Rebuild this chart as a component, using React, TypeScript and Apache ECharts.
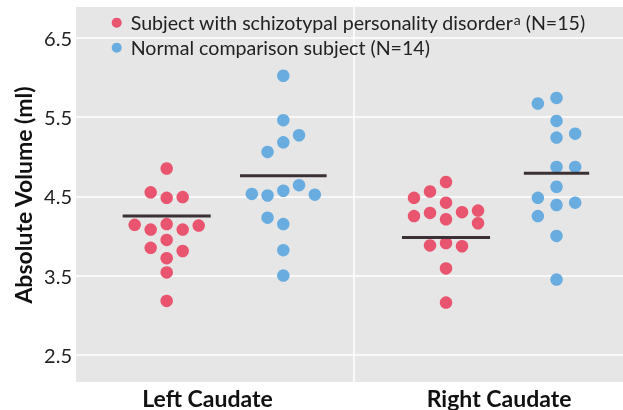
import React, { useEffect, useRef } from "react";
import * as echarts from "echarts";

// ---------- data ----------
const CATEGORIES = ["Left Caudate", "Right Caudate"];
const Y_TICKS = [2.5, 3.5, 4.5, 5.5, 6.5];
const GROUP_NAMES = [
  "Subject with schizotypal personality disorder (N=15)",
  "Normal comparison subject (N=14)",
];

// Left caudate – schizotypal personality disorder
const leftSpdValues = [4.85, 4.55, 4.48, 4.49, 4.14, 4.08, 4.15, 4.08, 4.13, 3.95, 3.85, 3.81, 3.72, 3.54, 3.18];
const leftSpdSlots = [0, -1, 0, 1, -2, -1, 0, 1, 2, 0, -1, 1, 0, 0, 0];
// Left caudate – normal comparison
const leftNcValues = [6.02, 5.46, 5.06, 5.18, 5.27, 4.53, 4.51, 4.57, 4.64, 4.52, 4.23, 4.15, 3.82, 3.5];
const leftNcSlots = [0, 0, -1, 0, 1, -2, -1, 0, 1, 2, -1, 0, 0, 0];
// Right caudate – schizotypal personality disorder
const rightSpdValues = [4.68, 4.56, 4.48, 4.42, 4.25, 4.29, 4.21, 4.3, 4.32, 4.16, 3.88, 3.91, 3.87, 3.59, 3.16];
const rightSpdSlots = [0, -1, -2, 0, -2, -1, 0, 1, 2, 2, -1, 0, 1, 0, 0];
// Right caudate – normal comparison
const rightNcValues = [5.67, 5.74, 5.45, 5.24, 5.29, 4.87, 4.87, 4.62, 4.48, 4.39, 4.42, 4.25, 4.0, 3.45];
const rightNcSlots = [-1, 0, 0, 0, 1, 0, 1, 0, -1, 0, 1, -1, 0, 0];

// group means (left, right)
const spdMeans = [4.25, 3.98];
const ncMeans = [4.76, 4.79];

// ---------- layout / style ----------
const FONT = "Lato, 'Open Sans', sans-serif";
const RED = "#e9546f";
const BLUE = "#69ade0";
const spdOffset = [-0.14, -0.182];
const ncOffset = [0.26, 0.197];
const spdSpacing = [0.0549, 0.0549];
const ncSpacing = [0.054, 0.064];

function swarm(values: number[], slots: number[], cat: number, offset: number, spacing: number) {
  return values.map((v, i) => [cat + 1 + offset + slots[i] * spacing, v]);
}
function meanLine(mean: number, slots: number[], cat: number, offset: number, spacing: number) {
  const maxSlot = Math.max(...slots.map((s) => Math.abs(s)));
  return [cat + 1 + offset, mean, (maxSlot + 0.75) * spacing];
}

export default function App() {
  const ref = useRef<HTMLDivElement>(null);
  useEffect(() => {
    const chart = echarts.init(ref.current!, undefined, { renderer: "svg" });
    const spdData = [
      ...swarm(leftSpdValues, leftSpdSlots, 0, spdOffset[0], spdSpacing[0]),
      ...swarm(rightSpdValues, rightSpdSlots, 1, spdOffset[1], spdSpacing[1]),
    ];
    const ncData = [
      ...swarm(leftNcValues, leftNcSlots, 0, ncOffset[0], ncSpacing[0]),
      ...swarm(rightNcValues, rightNcSlots, 1, ncOffset[1], ncSpacing[1]),
    ];
    const meanData = [
      meanLine(spdMeans[0], leftSpdSlots, 0, spdOffset[0], spdSpacing[0]),
      meanLine(ncMeans[0], leftNcSlots, 0, ncOffset[0], ncSpacing[0]),
      meanLine(spdMeans[1], rightSpdSlots, 1, spdOffset[1], spdSpacing[1]),
      meanLine(ncMeans[1], rightNcSlots, 1, ncOffset[1], ncSpacing[1]),
    ];
    chart.setOption({
      animation: false,
      grid: {
        left: 76,
        right: 0,
        top: 7,
        bottom: 28,
        show: true,
        backgroundColor: "#e6e6e6",
        borderWidth: 0,
      },
      xAxis: {
        type: "value",
        min: 0.549,
        max: 2.425,
        axisLine: { show: false },
        axisTick: { show: false, customValues: [1.5] },
        splitLine: { show: true, lineStyle: { color: "#ffffff", width: 1.5 } },
        axisLabel: {
          customValues: [1, 2],
          formatter: (v: number) => CATEGORIES[Math.round(v) - 1] ?? "",
          fontFamily: FONT,
          fontWeight: "bold",
          fontSize: 23,
          color: "#111",
          margin: 4,
        },
      },
      yAxis: {
        type: "value",
        min: 2.158,
        max: 6.887,
        axisLine: { show: false },
        axisTick: { show: false, customValues: Y_TICKS },
        splitLine: { show: true, lineStyle: { color: "#ffffff", width: 1.5 } },
        axisLabel: {
          customValues: Y_TICKS,
          formatter: (v: number) => v.toFixed(1),
          fontFamily: FONT,
          fontSize: 20,
          color: "#222",
          margin: 4,
        },
      },
      legend: {
        data: GROUP_NAMES,
        orient: "vertical",
        left: 111.7,
        top: 12.7,
        padding: 0,
        icon: "circle",
        itemWidth: 10,
        itemHeight: 10,
        itemGap: 5,
        formatter: (name: string) =>
          name === GROUP_NAMES[0]
            ? "Subject with schizotypal personality disorder{sup|a} (N=15)"
            : name,
        textStyle: {
          fontFamily: FONT,
          fontSize: 19.6,
          lineHeight: 20,
          color: "#222",
          padding: [0, 0, 0, 4],
          rich: {
            sup: { fontFamily: FONT, fontSize: 14, lineHeight: 20, color: "#222", padding: [0, 0, 6, 0] },
          },
        },
      },
      graphic: [
        {
          type: "text",
          x: 23,
          y: 195,
          rotation: Math.PI / 2,
          style: {
            text: "Absolute Volume (ml)",
            fontFamily: FONT,
            fontWeight: "bold",
            fontSize: 23,
            fill: "#111",
            textAlign: "center",
            textVerticalAlign: "middle",
          },
        },
      ],
      series: [
        {
          name: GROUP_NAMES[0],
          type: "scatter",
          data: spdData,
          symbolSize: 12.5,
          itemStyle: { color: RED, opacity: 1 },
          z: 2,
        },
        {
          name: GROUP_NAMES[1],
          type: "scatter",
          data: ncData,
          symbolSize: 12.5,
          itemStyle: { color: BLUE, opacity: 1 },
          z: 2,
        },
        {
          name: "mean",
          type: "custom",
          data: meanData,
          z: 3,
          renderItem: (_p: any, api: any) => {
            const x = api.value(0);
            const y = api.value(1);
            const hw = api.value(2);
            const a = api.coord([x - hw, y]);
            const b = api.coord([x + hw, y]);
            return {
              type: "line",
              shape: { x1: a[0], y1: a[1], x2: b[0], y2: b[1] },
              style: { stroke: "#3b3035", lineWidth: 3 },
            };
          },
        },
      ],
    });
    return () => chart.dispose();
  }, []);
  return (
    <div
      ref={ref}
      style={{ position: "fixed", left: 0, top: 0, width: 623, height: 410 }}
    />
  );
}
